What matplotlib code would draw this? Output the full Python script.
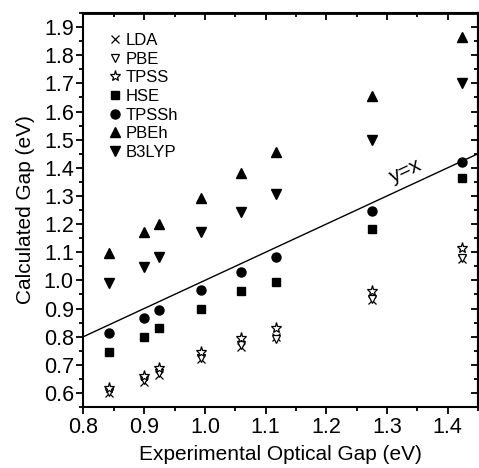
import matplotlib
matplotlib.use("Agg")
import matplotlib.pyplot as plt
from matplotlib.ticker import MultipleLocator

plt.rcParams['font.family'] = ['Liberation Sans', 'DejaVu Sans']

# experimental optical gaps (eV)
exp_gap = [0.842, 0.899, 0.925, 0.994, 1.059, 1.117, 1.275, 1.423]

# calculated gaps per functional (eV)
lda = [0.600, 0.640, 0.665, 0.720, 0.765, 0.800, 0.930, 1.075]
pbe = [0.603, 0.645, 0.670, 0.725, 0.770, 0.790, 0.935, 1.078]
tpss = [0.619, 0.660, 0.690, 0.745, 0.795, 0.832, 0.963, 1.114]
hse = [0.747, 0.800, 0.830, 0.898, 0.963, 0.994, 1.181, 1.365]
tpssh = [0.814, 0.865, 0.895, 0.966, 1.031, 1.084, 1.246, 1.420]
pbeh = [1.096, 1.173, 1.201, 1.292, 1.380, 1.456, 1.656, 1.866]
b3lyp = [0.990, 1.049, 1.084, 1.173, 1.244, 1.306, 1.499, 1.700]

fig = plt.figure(figsize=(4.79, 4.68), dpi=100)
ax = fig.add_axes([0.1743, 0.1303, 0.8237, 0.8419])

ax.plot([0.8, 1.45], [0.8, 1.45], color='black', lw=1.0, zorder=1)

ax.plot(exp_gap, lda, 'x', color='black', ms=6, mew=0.9, label='LDA', ls='none')
ax.plot(exp_gap, pbe, 'v', mfc='white', mec='black', ms=6, mew=0.9, label='PBE', ls='none')
ax.plot(exp_gap, tpss, '*', mfc='white', mec='black', ms=8, mew=0.9, label='TPSS', ls='none')
ax.plot(exp_gap, hse, 's', color='black', ms=6, label='HSE', ls='none')
ax.plot(exp_gap, tpssh, 'o', color='black', ms=6.5, label='TPSSh', ls='none')
ax.plot(exp_gap, pbeh, '^', color='black', ms=7, label='PBEh', ls='none')
ax.plot(exp_gap, b3lyp, 'v', color='black', ms=7, label='B3LYP', ls='none')

ax.text(1.33, 1.387, 'y=x', fontsize=15, rotation=25, ha='center', va='center')

ax.set_xlim(0.8, 1.45)
ax.set_ylim(0.55, 1.95)
ax.xaxis.set_major_locator(MultipleLocator(0.1))
ax.xaxis.set_minor_locator(MultipleLocator(0.05))
ax.yaxis.set_major_locator(MultipleLocator(0.1))
ax.yaxis.set_minor_locator(MultipleLocator(0.05))

ax.tick_params(which='both', direction='out', labelsize=15.5, width=1.3)
ax.tick_params(which='major', length=5, pad=2)
ax.tick_params(which='minor', length=3)

secx = ax.secondary_xaxis('top')
secx.xaxis.set_major_locator(MultipleLocator(0.1))
secx.xaxis.set_minor_locator(MultipleLocator(0.05))
secx.tick_params(which='both', direction='in', labeltop=False, width=1.3)
secx.tick_params(which='major', length=5)
secx.tick_params(which='minor', length=3)
secy = ax.secondary_yaxis('right')
secy.yaxis.set_major_locator(MultipleLocator(0.1))
secy.yaxis.set_minor_locator(MultipleLocator(0.05))
secy.tick_params(which='both', direction='in', labelright=False, width=1.3)
secy.tick_params(which='major', length=5)
secy.tick_params(which='minor', length=3)

for s in ax.spines.values():
    s.set_linewidth(1.5)
secx.spines['top'].set_linewidth(2)
secy.spines['right'].set_linewidth(1.5)

ax.set_xlabel('Experimental Optical Gap (eV)', fontsize=15, labelpad=5)
ax.set_ylabel('Calculated Gap (eV)', fontsize=15, labelpad=6)

ax.legend(loc='upper left', bbox_to_anchor=(0.04, 0.975), frameon=False,
          fontsize=12, handlelength=0.7, handletextpad=0.3, labelspacing=0.22,
          borderaxespad=0.2)

fig.savefig('out.png', dpi=100)
